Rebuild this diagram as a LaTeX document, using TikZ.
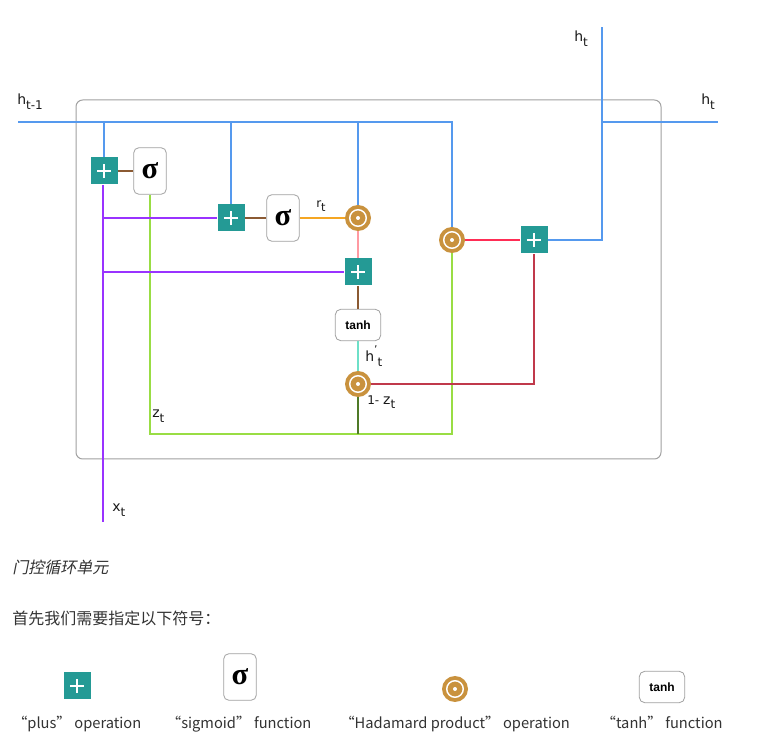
\documentclass[tikz,border=0pt]{standalone}
\usepackage{fontspec}
\setmainfont{DejaVu Sans}
\newfontfamily\cjk{Noto Sans CJK SC}
\newfontfamily\cjkit[FakeSlant=0.2]{Noto Sans CJK SC}
\newfontfamily\sigfont{Liberation Serif}
\newfontfamily\arialf{Liberation Sans}
\usetikzlibrary{calc}
\definecolor{cblue}{HTML}{5599EE}
\definecolor{cpurple}{HTML}{9933FF}
\definecolor{cgreen}{HTML}{99DD44}
\definecolor{cbrown}{HTML}{8B5A33}
\definecolor{corange}{HTML}{F5A623}
\definecolor{cpink}{HTML}{FF9AA2}
\definecolor{caqua}{HTML}{6EE0C8}
\definecolor{cdred}{HTML}{C0394B}
\definecolor{cred}{HTML}{FF2D55}
\definecolor{cdgreen}{HTML}{4F7A28}
\definecolor{cteal}{HTML}{249A95}
\definecolor{cgold}{HTML}{C9923E}
\definecolor{cframe}{HTML}{A0A0A0}
\definecolor{ctext}{HTML}{333333}
\newcommand\mysub[1]{\raisebox{-0.55ex}{\fontsize{9}{9}\selectfont #1}}
\begin{document}
\begin{tikzpicture}[x=0.75pt,y=-0.75pt,
  plusop/.style={rectangle, fill=cteal, minimum size=20.25pt, inner sep=0pt,
    path picture={\draw[white,line width=1pt]
      ([xshift=-5.4pt]path picture bounding box.center) -- ([xshift=5.4pt]path picture bounding box.center)
      ([yshift=-5.4pt]path picture bounding box.center) -- ([yshift=5.4pt]path picture bounding box.center);}},
  hadop/.style={circle, fill=cgold, minimum size=19.5pt, inner sep=0pt,
    path picture={\draw[white,line width=1.1pt] (path picture bounding box.center) circle[radius=6.2pt];
      \fill[white] (path picture bounding box.center) circle[radius=1.5pt];}},
  sigbox/.style={rectangle, rounded corners=4pt, draw=cframe, line width=0.6pt, fill=white,
    minimum width=24.5pt, minimum height=35pt, inner sep=0pt,
    font=\sigfont\bfseries\fontsize{23}{23}\selectfont},
  tanhbox/.style={rectangle, rounded corners=4pt, draw=cframe, line width=0.6pt, fill=white,
    minimum width=34pt, minimum height=23.5pt, inner sep=0pt,
    font=\arialf\bfseries\fontsize{9}{10}\selectfont},
  conn/.style={line width=1.4pt},
  lbl/.style={anchor=base west, inner sep=0pt, font=\fontsize{10.5}{12}\selectfont, text=black!90},
  legtext/.style={anchor=base, inner sep=0pt, font=\cjk\fontsize{11}{13}\selectfont, text=ctext}
]
\useasboundingbox[fill=white] (0,0) rectangle (772,755);
% frame
\draw[cframe, line width=0.75pt, rounded corners=5pt] (76,100) rectangle (661,459);

% nodes
\node[plusop] (p1) at (104,171) {};
\node[sigbox] (s1) at (150,171) {σ};
\node[plusop] (p2) at (231,218) {};
\node[sigbox] (s2) at (283,218) {σ};
\node[hadop] (H1) at (358,218) {};
\node[plusop] (p3) at (358,272) {};
\node[tanhbox] (th) at (358,325) {tanh};
\node[hadop] (H3) at (358,384) {};
\node[hadop] (H2) at (452,240) {};
\node[plusop] (p4) at (534,240) {};

\coordinate (hin) at (18,122);
\coordinate (hout) at (718,122);
\coordinate (htop) at (602,27);
\coordinate (xin) at (103,522);
\coordinate (zb) at (300,434);

% connectors
\draw[conn, cgreen] (s1) |- (zb) -| (H2);
\draw[conn, cdgreen] (H3) -- (H3 |- zb);
\draw[conn, cblue] (hin) -| (H2);
\draw[conn, cblue] (p1 |- hin) -- (p1);
\draw[conn, cblue] (p2 |- hin) -- (p2);
\draw[conn, cblue] (H1 |- hin) -- (H1);
\draw[conn, cpurple] (xin) -- (xin |- p1.south);
\draw[conn, cpurple] (xin |- p2) -- (p2);
\draw[conn, cpurple] (xin |- p3) -- (p3);
\draw[conn, cbrown] (p1) -- (s1);
\draw[conn, cbrown] (p2) -- (s2);
\draw[conn, corange] (s2) -- (H1);
\draw[conn, cpink] (H1) -- (p3);
\draw[conn, cbrown] (p3) -- (th);
\draw[conn, caqua] (th) -- (H3);
\draw[conn, cdred] (H3) -| (p4);
\draw[conn, cred] (H2) -- (p4);
\draw[conn, cblue] (p4) -| (htop);
\draw[conn, cblue] (htop |- hin) -- (hout);

% labels
\node[lbl] (lht1) at (17,105) {h\mysub{t-1}};
\node[lbl] (lhtop) at (574,42) {h\mysub{t}};
\node[lbl] (lhout) at (701,105) {h\mysub{t}};
\node[lbl, font=\fontsize{9}{10}\selectfont] (lrt) at (316,208) {r\raisebox{-0.55ex}{\fontsize{8.5}{9}\selectfont t}};
\node[lbl] (lhp) at (365,362) {h\raisebox{1.1ex}{\fontsize{8}{8}\selectfont ’}\mysub{t}};
\node[lbl, font=\fontsize{9}{10}\selectfont] (l1z) at (367,405) {1-\hspace{3pt}{\fontsize{10.5}{12}\selectfont z}\mysub{t}};
\node[lbl] (lzt) at (152,418) {z\mysub{t}};
\node[lbl] (lxt) at (112,512) {x\mysub{t}};

% caption
\node[anchor=west, inner sep=0pt, font=\cjkit\fontsize{12}{14}\selectfont, text=ctext] (cap) at (12,567) {门控循环单元};
\node[anchor=west, inner sep=0pt, font=\cjk\fontsize{12}{14}\selectfont, text=ctext] (intro) at (12,618) {首先我们需要指定以下符号：};

% legend
\node[plusop] (lp) at (77,686) {};
\node[sigbox] (ls) at (240,677) {σ};
\node[hadop] (lH) at (455,689) {};
\node[tanhbox] (lt) at (662,687) {tanh};
\node[legtext] (tp) at (77,729) {“plus” operation};
\node[legtext] (ts) at (239,729) {“sigmoid” function};
\node[legtext] (tH) at (455,729) {“Hadamard product” operation};
\node[legtext] (tt) at (662,729) {“tanh” function};
\end{tikzpicture}
\end{document}
